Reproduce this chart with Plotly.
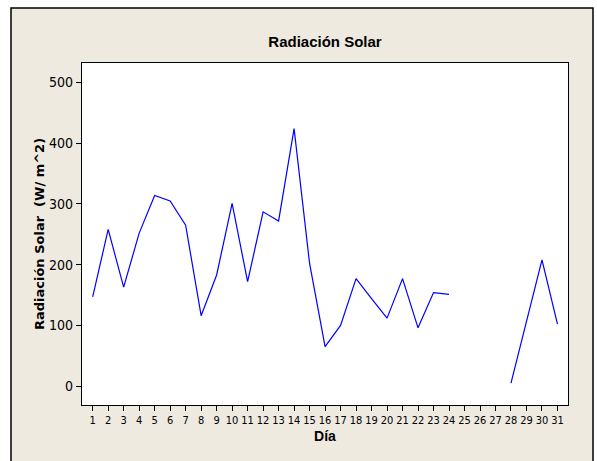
import plotly.graph_objects as go

# Daily solar radiation (W/m^2); days 25-27 have no reading
dias = list(range(1, 32))
radiacion = [147, 258, 163, 252, 314, 305, 265, 116, 183, 301,
             172, 287, 272, 424, 202, 65, 100, 177, 144, 112,
             177, 96, 154, 151, None, None, None, 5, 106, 208, 102]
y_ticks = [0, 100, 200, 300, 400, 500]

narrow = "DejaVu Sans Condensed, Liberation Sans Narrow, Arial Narrow, sans-serif"
bold_font = "Liberation Sans, Arial, sans-serif"

W, H = 597, 461
L, R, T, B = 82, 29, 63, 56
pw, ph = W - L - R, H - T - B

fig = go.Figure()
fig.add_trace(go.Scatter(x=dias, y=radiacion, mode='lines',
                         line=dict(color='#0000ff', width=1.2),
                         connectgaps=False, showlegend=False))

# beige outer frame like the Minitab graph window
fig.add_shape(type='rect', xref='paper', yref='paper',
              x0=(11 - L) / pw, x1=(593 - L) / pw,
              y0=(H - T - 480) / ph, y1=(H - B - 8) / ph,
              fillcolor='#eeeae0', line=dict(color='black', width=1.5),
              layer='below')
# white data region on top of the frame fill
fig.add_shape(type='rect', xref='paper', yref='paper', x0=0, x1=1, y0=0, y1=1,
              fillcolor='white', line=dict(width=0), layer='below')

fig.update_layout(
    width=W, height=H,
    margin=dict(l=L, r=R, t=T, b=B, autoexpand=False),
    paper_bgcolor='white', plot_bgcolor='white',
    title=dict(text='<b>Radiación Solar</b>', x=0.5, xanchor='center',
               xref='paper', y=1 - 42 / H, yanchor='middle',
               font=dict(family=bold_font, size=15, color='black')),
    xaxis=dict(range=[0.31, 31.68], tickvals=dias, ticks='outside', ticklen=5,
               tickangle=0, automargin=False,
               tickcolor='black', showgrid=False, zeroline=False,
               showline=True, mirror=True, linecolor='black', linewidth=1.2,
               tickfont=dict(family=narrow, size=11, color='black'),
               title=dict(text='<b>Día</b>', standoff=4,
                          font=dict(family=bold_font, size=14, color='black'))),
    yaxis=dict(range=[-31, 532], tickvals=y_ticks, ticks='outside', ticklen=5,
               automargin=False,
               tickcolor='black', showgrid=False, zeroline=False,
               showline=True, mirror=True, linecolor='black', linewidth=1.2,
               tickfont=dict(family=narrow, size=14, color='black'),
               title=dict(text='<b>Radiación Solar  (W/ m^2)</b>', standoff=1,
                          font=dict(family='DejaVu Sans, sans-serif', size=13,
                                    color='black'))),
)

fig.write_html("out.html", config={'displayModeBar': False},
               post_script="document.body.style.margin='0';")
